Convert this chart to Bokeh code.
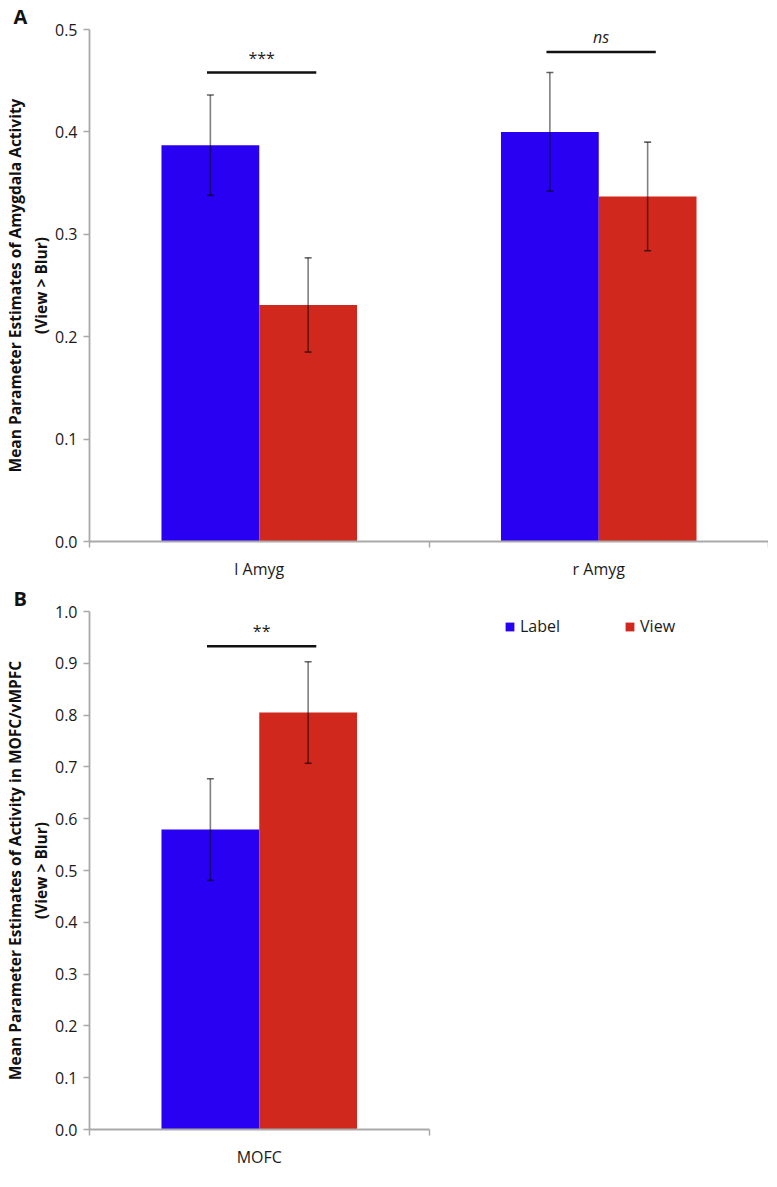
from bokeh.plotting import figure
from bokeh.layouts import column
from bokeh.models import (ColumnDataSource, Whisker, TeeHead, Legend, LegendItem,
                          FixedTicker, Range1d, NumeralTickFormatter, Title)
from bokeh.embed import file_html
from bokeh.resources import INLINE
from bokeh.core.properties import value

# ---------------- data ----------------
SERIES = ["Label", "View"]

REGIONS_A = ["l Amyg", "r Amyg"]
LABEL_A = [0.387, 0.400]
LABEL_A_SE = [0.049, 0.058]
VIEW_A = [0.231, 0.337]
VIEW_A_SE = [0.046, 0.053]
SIG_A = ["***", "ns"]
SIG_A_Y = [0.458, 0.478]
YTICKS_A = [0.0, 0.1, 0.2, 0.3, 0.4, 0.5]
YLABEL_A = "Mean Parameter Estimates of Amygdala Activity\n(View > Blur)"

REGIONS_B = ["MOFC"]
LABEL_B = [0.579]
LABEL_B_SE = [0.098]
VIEW_B = [0.805]
VIEW_B_SE = [0.098]
SIG_B = ["**"]
SIG_B_Y = [0.933]
YTICKS_B = [0.0, 0.1, 0.2, 0.3, 0.4, 0.5, 0.6, 0.7, 0.8, 0.9, 1.0]
YLABEL_B = "Mean Parameter Estimates of Activity in MOFC/vMPFC\n(View > Blur)"

# ---------------- style ----------------
BLUE = "#2a00f2"
RED = "#d0281c"
AXIS = "#a9a9a9"
FONT = "Open Sans"
BAR_W = 0.288
LEFT = 78
FRAME_W = 679
N_SLOTS = 2  # both panels share the same category slot width


def make_panel(letter, regions, lab, lab_se, view, view_se, sig, sig_y, yticks,
               ylabel, frame_h):
    n = len(regions)
    p = figure(frame_width=FRAME_W, frame_height=frame_h,
               output_backend="svg", toolbar_location=None,
               x_range=Range1d(0, N_SLOTS), y_range=Range1d(yticks[0], yticks[-1]),
               min_border_left=LEFT, min_border_right=0,
               min_border_top=0, min_border_bottom=0)
    p.grid.visible = False
    p.outline_line_color = None
    p.background_fill_color = "white"
    p.border_fill_color = "white"

    t = Title(text=letter, align="left", offset=-76, standoff=0,
              text_font=FONT, text_font_size="20px", text_font_style="bold",
              text_color="#111111")
    p.add_layout(t, "above")

    idx = list(range(n))
    xl = [i + 0.5 - BAR_W / 2 for i in idx]
    xv = [i + 0.5 + BAR_W / 2 for i in idx]
    src_l = ColumnDataSource(dict(x=xl, top=lab,
                                  upper=[a + b for a, b in zip(lab, lab_se)],
                                  lower=[a - b for a, b in zip(lab, lab_se)]))
    src_v = ColumnDataSource(dict(x=xv, top=view,
                                  upper=[a + b for a, b in zip(view, view_se)],
                                  lower=[a - b for a, b in zip(view, view_se)]))
    rl = p.vbar(x="x", top="top", width=BAR_W, source=src_l, fill_color=BLUE, line_color=None)
    rv = p.vbar(x="x", top="top", width=BAR_W, source=src_v, fill_color=RED, line_color=None)

    for src in (src_l, src_v):
        w = Whisker(base="x", upper="upper", lower="lower", source=src, level="annotation",
                    line_color="black", line_alpha=0.5, line_width=1.6,
                    upper_head=TeeHead(size=7, line_color="black", line_alpha=0.6, line_width=1.6),
                    lower_head=TeeHead(size=7, line_color="black", line_alpha=0.6, line_width=1.6))
        p.add_layout(w)

    # significance brackets
    sx0 = [x - 0.01 for x in xl]
    sx1 = [x + 0.024 for x in xv]
    p.segment(x0=sx0, x1=sx1, y0=sig_y, y1=sig_y, line_color="#111111", line_width=2.6)
    smid = [(a + b) / 2 for a, b in zip(sx0, sx1)]
    for i in idx:
        p.text(x=[smid[i]], y=[sig_y[i]], text=[sig[i]], text_align="center",
               text_baseline="bottom", y_offset=-4, text_font=value(FONT),
               text_font_size="16px", text_color="#222222",
               text_font_style="italic" if sig[i] == "ns" else "normal")

    # axes
    xa = p.xaxis[0]
    xa.bounds = (0, n)
    xa.ticker = FixedTicker(ticks=[i + 0.5 for i in idx], minor_ticks=[float(i) for i in range(n + 1)])
    xa.major_label_overrides = {i + 0.5: regions[i] for i in idx}
    xa.major_tick_out = 0
    xa.major_tick_in = 0
    xa.minor_tick_out = 6
    xa.minor_tick_in = 0
    xa.minor_tick_line_color = AXIS
    xa.minor_tick_line_width = 1.5
    xa.axis_line_color = AXIS
    xa.axis_line_width = 1.8
    xa.major_label_standoff = 10
    xa.major_label_text_font = FONT
    xa.major_label_text_font_size = "16px"
    xa.major_label_text_color = "#1a1a1a"

    ya = p.yaxis[0]
    ya.ticker = FixedTicker(ticks=yticks)
    ya.formatter = NumeralTickFormatter(format="0.0")
    ya.major_tick_out = 6
    ya.major_tick_in = 0
    ya.minor_tick_line_color = None
    ya.major_tick_line_color = AXIS
    ya.major_tick_line_width = 1.5
    ya.axis_line_color = AXIS
    ya.axis_line_width = 1.8
    ya.major_label_standoff = 6
    ya.major_label_text_font = FONT
    ya.major_label_text_font_size = "16px"
    ya.major_label_text_color = "#1a1a1a"
    ya.axis_label = ylabel
    ya.axis_label_standoff = 0
    ya.axis_label_text_font = FONT
    ya.axis_label_text_font_size = "15.5px"
    ya.axis_label_text_font_style = "bold"
    ya.axis_label_text_color = "#111111"
    return p, rl, rv


FRAME_H_A = 512
FRAME_H_B = 518

pA, _, _ = make_panel("A", REGIONS_A, LABEL_A, LABEL_A_SE, VIEW_A, VIEW_A_SE, SIG_A, SIG_A_Y,
                      YTICKS_A, YLABEL_A, FRAME_H_A)

pB, rl, rv = make_panel("B", REGIONS_B, LABEL_B, LABEL_B_SE, VIEW_B, VIEW_B_SE, SIG_B, SIG_B_Y,
                        YTICKS_B, YLABEL_B, FRAME_H_B)

legend = Legend(items=[LegendItem(label=SERIES[0], renderers=[rl]),
                       LegendItem(label=SERIES[1], renderers=[rv])],
                orientation="horizontal", location=(415, FRAME_H_B - 26),
                glyph_width=11, glyph_height=11, label_standoff=5, spacing=64,
                padding=0, margin=0, border_line_color=None, background_fill_alpha=0,
                label_text_font=FONT, label_text_font_size="16px", label_text_color="#1a1a1a")
pB.add_layout(legend)

layout = column(pA, pB, spacing=0)
open("out.html", "w").write(file_html(layout, INLINE))
